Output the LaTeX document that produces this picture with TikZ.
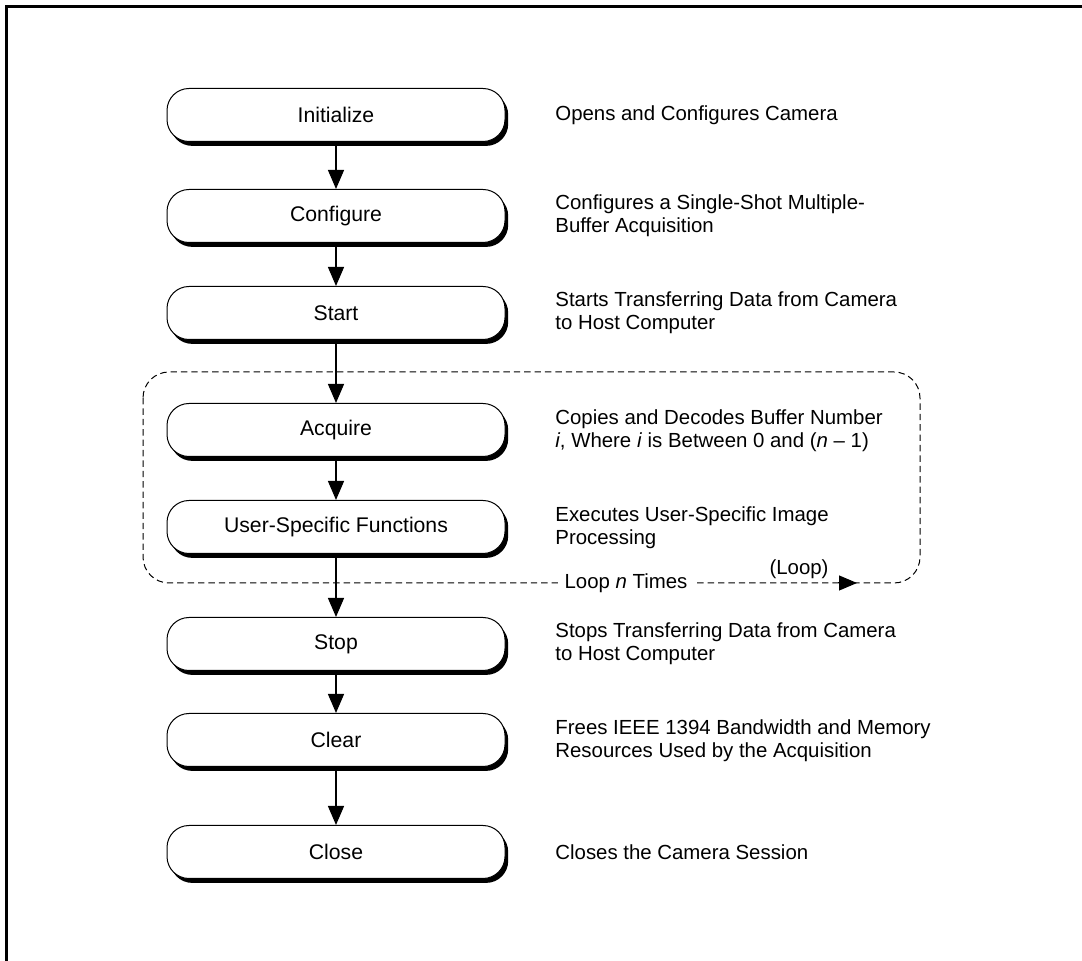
\documentclass[tikz,border=0pt]{standalone}
\usepackage{fontspec}
\setmainfont{Liberation Sans}
\usetikzlibrary{arrows.meta,shadows}

\begin{document}
\begin{tikzpicture}[x=0.5pt,y=-0.5pt,
  font=\fontsize{10.2}{11.5}\selectfont,
  stepbox/.style={draw=black, line width=0.5pt, fill=white, rounded corners=11pt,
    minimum width=169pt, minimum height=26.5pt, inner sep=0pt,
    font=\fontsize{10.6}{12}\selectfont,
    drop shadow={shadow xshift=1.6pt, shadow yshift=-2.2pt, fill=black, opacity=1}},
  desc/.style={anchor=west, align=left, inner sep=0pt},
  flow/.style={line width=0.6pt, -{Triangle[length=9.5pt,width=8pt]}},
  loopline/.style={line width=0.5pt, dash pattern=on 3.2pt off 2pt},
  looplabel/.style={fill=white, inner xsep=3.5pt, inner ysep=1pt},
  frame/.style={line width=1.5pt}]

\useasboundingbox (0,0) rectangle (1082,961);

% figure frame (top and left edges)
\draw[frame] (6.5,961) -- (6.5,6.5) -- (1082,6.5);

% loop region
\draw[loopline, rounded corners=13pt] (143,372) rectangle (920,583);
\node[looplabel] (loopn) at (626,583) {Loop \textit{n} Times};
\node[inner sep=0pt] (looptag) at (799,569) {(Loop)};
\coordinate (looptail) at (838,583);
\coordinate (looptip) at (857,583);
\draw[line width=0.5pt, -{Triangle[length=9pt,width=7.5pt]}] (looptail) -- (looptip);

% steps
\node[stepbox] (init)  at (336,115) {Initialize};
\node[stepbox] (conf)  at (336,216) {Configure};
\node[stepbox] (start) at (336,313) {Start};
\node[stepbox] (acq)   at (336,430) {Acquire};
\node[stepbox] (user)  at (336,527) {User-Specific Functions};
\node[stepbox] (stop)  at (336,644) {Stop};
\node[stepbox] (clear) at (336,740) {Clear};
\node[stepbox] (close) at (336,852) {Close};

% descriptions
\node[desc] (dinit)  at (555,115) {Opens and Configures Camera};
\node[desc] (dconf)  at (555,216) {Configures a Single-Shot Multiple-\\Buffer Acquisition};
\node[desc] (dstart) at (555,313) {Starts Transferring Data from Camera\\to Host Computer};
\node[desc] (dacq)   at (555,431) {Copies and Decodes Buffer Number\\\textit{i}, Where \textit{i} is Between 0 and (\textit{n} -- 1)};
\node[desc] (duser)  at (555,528) {Executes User-Specific Image\\Processing};
\node[desc] (dstop)  at (555,644) {Stops Transferring Data from Camera\\to Host Computer};
\node[desc] (dclear) at (555,741) {Frees IEEE 1394 Bandwidth and Memory\\Resources Used by the Acquisition};
\node[desc] (dclose) at (555,852) {Closes the Camera Session};

% flow arrows
\draw[flow] (init) -- (conf);
\draw[flow] (conf) -- (start);
\draw[flow] (start) -- (acq);
\draw[flow] (acq) -- (user);
\draw[flow] (user) -- (stop);
\draw[flow] (stop) -- (clear);
\draw[flow] (clear) -- (close);

\end{tikzpicture}
\end{document}
